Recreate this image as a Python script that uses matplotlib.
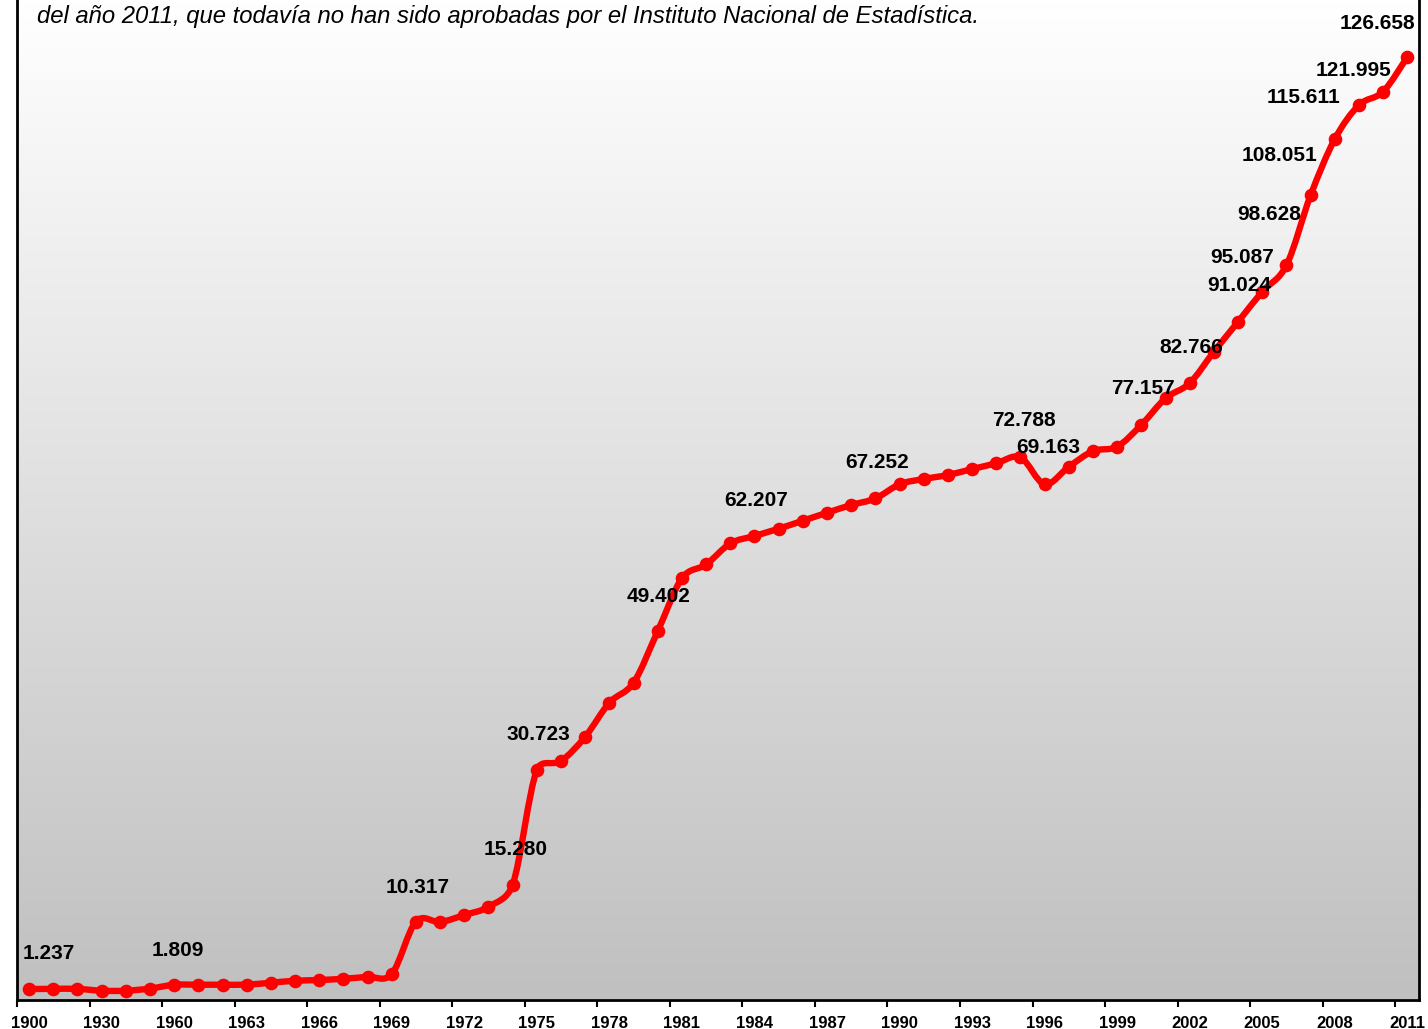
import matplotlib
matplotlib.use("Agg")
import matplotlib.pyplot as plt
import numpy as np
from matplotlib.path import Path
from matplotlib.patches import PathPatch

# years on the category axis
years = ["1900", "1910", "1920", "1930", "1940", "1950"] + [str(y) for y in range(1960, 2012)]

# series values
values = [
    1237, 1260, 1260, 1010, 1010, 1300,
    1809, 1820, 1820, 1830, 2090, 2350, 2450, 2620, 2890, 3260,
    10317, 10250, 11200, 12310, 15280, 30723, 31920, 35190, 39770, 42460,
    49402, 56510, 58370, 61200, 62207, 63180, 64260, 65330, 66370, 67252,
    69160, 69870, 70410, 71210, 71980, 72788, 69163, 71520, 73630, 74220,
    77157, 80730, 82766, 87000, 91024, 95087, 98628, 108051, 115611, 120190,
    121995, 126658,
]

# which points carry a data label
labelled = ["1900", "1960", "1970", "1974", "1975", "1980", "1984", "1989", "1995", "1996",
            "2000", "2002", "2004", "2005", "2006", "2007", "2008", "2010", "2011"]

# label offsets in pixels (dx, dy up)
label_dx = [20, 4, 2, 3, 2, 1, 2, 2, 3, 4, 2, 2, 1, -20, -17, -31, -31, -30, -30]
label_dy = [36, 34, 34, 35, 35, 35, 35, 36, 37, 37, 36, 36, 36, 34, 51, 40, 42, 21, 34]

note = "del año 2011, que todavía no han sido aprobadas por el Instituto Nacional de Estadística."

W, H = 1428, 1029
fig = plt.figure(figsize=(W / 100, H / 100), dpi=100)
ax = fig.add_axes([17 / W, 29.5 / H, (1419.4 - 17) / W, 1 - 29.5 / H])

x = np.arange(len(values))
y = np.array(values, dtype=float)

ax.set_xlim(-0.5, len(values) - 0.5)
ax.set_ylim(-170, 134330)

# gradient background
grad = np.linspace(1.0, 0.0, 256).reshape(-1, 1)
ax.imshow(grad, extent=[0, 1, 0, 1], transform=ax.transAxes, aspect="auto",
          cmap=matplotlib.colors.LinearSegmentedColormap.from_list("g", ["#c0c0c0", "#ffffff"]),
          zorder=0)

# smoothed line: bezier segments, tangent length capped by the segment length
sx, sy = 24.18, 7.431 / 1000.0
pts = np.column_stack([x * sx, y * sy])
verts = [pts[0]]
codes = [Path.MOVETO]
n = len(pts)
for i in range(n - 1):
    p0 = pts[i - 1] if i > 0 else pts[i]
    p1 = pts[i]
    p2 = pts[i + 1]
    p3 = pts[i + 2] if i + 2 < n else pts[i + 1]
    seg = np.hypot(*(p2 - p1))
    d1 = p2 - p0
    d2 = p3 - p1
    l1 = np.hypot(*d1)
    l2 = np.hypot(*d2)
    c1 = p1 + d1 / l1 * min(l1 / 6, seg / 2)
    c2 = p2 - d2 / l2 * min(l2 / 6, seg / 2)
    verts += [c1, c2, p2]
    codes += [Path.CURVE4] * 3
verts = np.array(verts) / np.array([sx, sy])
ax.add_patch(PathPatch(Path(verts, codes), fill=False, edgecolor="#ff0000", lw=4.6,
                       capstyle="round", joinstyle="round", zorder=3))
ax.plot(x, y, "o", color="#ff0000", markersize=8.8, zorder=4)

for yr, dx, dy in zip(labelled, label_dx, label_dy):
    i = years.index(yr)
    txt = f"{values[i]:,}".replace(",", ".")
    ax.annotate(txt, (x[i], y[i]), xytext=(dx, dy), textcoords="offset pixels",
                ha="center", va="center", fontsize=15, fontweight="bold",
                family="Liberation Sans", color="black", zorder=5)

# axes styling
ax.spines["top"].set_visible(False)
for s in ["left", "right", "bottom"]:
    ax.spines[s].set_linewidth(2)
    ax.spines[s].set_color("black")
ax.set_yticks([])
ax.set_xticks(np.arange(-0.5, len(values) - 0.5, 3))
ax.set_xticklabels([])
ax.tick_params(axis="x", which="major", length=5, width=1.5, direction="out")
ax.set_xticks(np.arange(0, len(values), 3), minor=True)
ax.set_xticklabels(years[::3], minor=True, fontsize=12, fontweight="bold", family="Liberation Sans")
ax.tick_params(axis="x", which="minor", length=0, pad=12)

fig.text(37 / W, 1 - 16 / H, note, ha="left", va="center", fontsize=17.2, style="italic",
         family="Liberation Sans")

fig.savefig("out.png", dpi=100)
